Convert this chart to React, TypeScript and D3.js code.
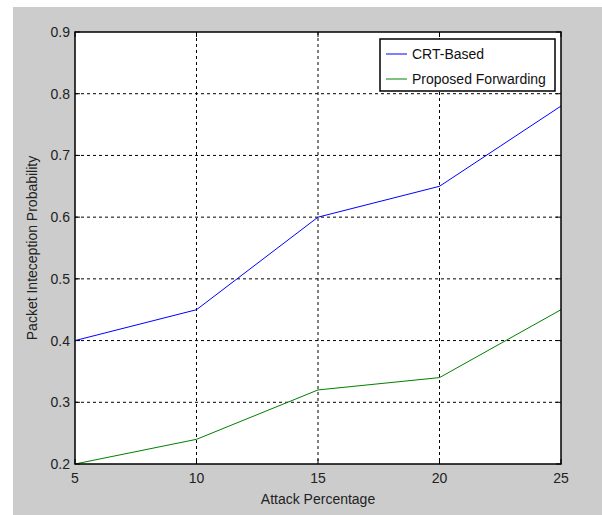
import React from "react";
import * as d3 from "d3";

const attackPct = [5, 10, 15, 20, 25];
const crtBased = [0.4, 0.45, 0.6, 0.65, 0.78];
const proposed = [0.2, 0.24, 0.32, 0.34, 0.45];
const xTicks = [5, 10, 15, 20, 25];
const yTicks = [0.2, 0.3, 0.4, 0.5, 0.6, 0.7, 0.8, 0.9];
const seriesNames = ["CRT-Based", "Proposed Forwarding"];
const seriesColors = ["#0000ff", "#008000"];

export default function App() {
  const W = 602, H = 515;
  const L = 75, R = 561, T = 32, B = 464;
  const x = d3.scaleLinear().domain([5, 25]).range([L, R]);
  const y = d3.scaleLinear().domain([0.2, 0.9]).range([B, T]);
  const line = d3.line<number>().x((_, i) => x(attackPct[i])).y((d) => y(d));
  const series = [crtBased, proposed];
  const font = "'Liberation Sans', Arial, sans-serif";
  return (
    <svg width={W} height={H} style={{ position: "absolute", left: 0, top: 0 }}>
      <rect x={0} y={0} width={W} height={H} fill="#ffffff" />
      <rect x={13} y={7} width={W - 13} height={H - 7} fill="#cccccc" />
      <rect x={L} y={T} width={R - L} height={B - T} fill="#ffffff" />
      {xTicks.slice(1, -1).map((t) => (
        <line key={"gx" + t} x1={x(t)} x2={x(t)} y1={T} y2={B} stroke="#000" strokeWidth={1} strokeDasharray="3,3" />
      ))}
      {yTicks.slice(1, -1).map((t) => (
        <line key={"gy" + t} x1={L} x2={R} y1={y(t)} y2={y(t)} stroke="#000" strokeWidth={1} strokeDasharray="3,3" />
      ))}
      {xTicks.map((t) => (
        <g key={"tx" + t}>
          <line x1={x(t)} x2={x(t)} y1={B} y2={B - 5} stroke="#000" />
          <line x1={x(t)} x2={x(t)} y1={T} y2={T + 5} stroke="#000" />
          <text x={x(t)} y={483} textAnchor="middle" fontFamily={font} fontSize={14} fill="#222">{t}</text>
        </g>
      ))}
      {yTicks.map((t) => (
        <g key={"ty" + t}>
          <line x1={L} x2={L + 5} y1={y(t)} y2={y(t)} stroke="#000" />
          <line x1={R} x2={R - 5} y1={y(t)} y2={y(t)} stroke="#000" />
          <text x={70} y={y(t) + 5} textAnchor="end" fontFamily={font} fontSize={14} fill="#222">{t.toFixed(1)}</text>
        </g>
      ))}
      {series.map((s, i) => (
        <path key={"s" + i} d={line(s) || ""} fill="none" stroke={seriesColors[i]} strokeWidth={1} />
      ))}
      <rect x={L} y={T} width={R - L} height={B - T} fill="none" stroke="#000" strokeWidth={1.5} />
      <g>
        <rect x={380} y={39} width={175} height={52} fill="#ffffff" stroke="#000" strokeWidth={1.5} />
        {seriesNames.map((n, i) => (
          <g key={"lg" + i}>
            <line x1={386} x2={407} y1={54 + i * 25} y2={54 + i * 25} stroke={seriesColors[i]} strokeWidth={1} />
            <text x={412} y={59 + i * 25} fontFamily={font} fontSize={14} fill="#111">{n}</text>
          </g>
        ))}
      </g>
      <text x={(L + R) / 2} y={504} textAnchor="middle" fontFamily={font} fontSize={14} fill="#222">Attack Percentage</text>
      <text transform={`translate(37,${(T + B) / 2}) rotate(-90)`} textAnchor="middle" fontFamily={font} fontSize={14} fill="#222">Packet Inteception Probability</text>
    </svg>
  );
}
